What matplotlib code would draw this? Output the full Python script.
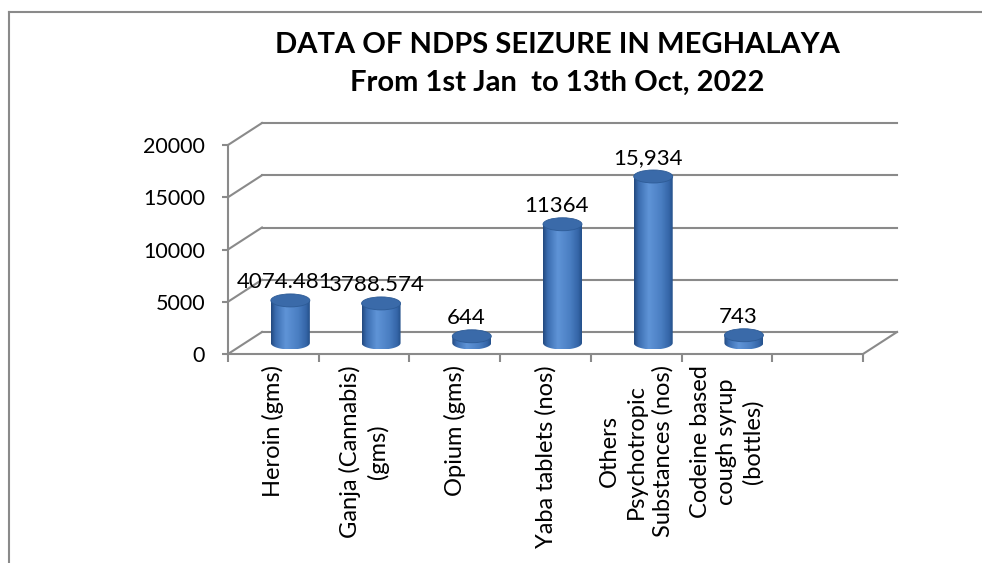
import numpy as np
import matplotlib.pyplot as plt
from matplotlib.patches import Ellipse, Polygon
from matplotlib.colors import LinearSegmentedColormap
from matplotlib.lines import Line2D

plt.rcParams['font.family'] = ['Lato', 'DejaVu Sans']

# data
categories = ['Heroin (gms)', 'Ganja (Cannabis)\n(gms)', 'Opium (gms)',
              'Yaba tablets (nos)', 'Others\nPsychotropic\nSubstances (nos)',
              'Codeine based\ncough syrup\n(bottles)']
values = [4074.481, 3788.574, 644, 11364, 15934, 743]
value_labels = ['4074.481', '3788.574', '644', '11364', '15,934', '743']
y_ticks = [0, 5000, 10000, 15000, 20000]
n_slots = 7  # last slot is empty in the original
title_lines = ['DATA OF NDPS SEIZURE IN MEGHALAYA', 'From 1st Jan  to 13th Oct, 2022']

W, H = 982, 563
fig = plt.figure(figsize=(W / 100, H / 100), dpi=100)
ax = fig.add_axes([228 / W, 1 - 354 / H, 635 / W, 209 / H])
ax.set_xlim(0, n_slots)
ax.set_ylim(0, 20000)

grid_col = '#8a8a8a'
# depth of the fake 3D box (in data units)
DX = 34 / (635 / n_slots)
DY = 22 / 209 * 20000

# back wall gridlines + side wall diagonals
for v in y_ticks:
    ax.plot([DX, n_slots + DX], [v + DY, v + DY], color=grid_col, lw=1.5,
            clip_on=False, zorder=1)
    ax.plot([0, DX], [v, v + DY], color=grid_col, lw=1.5, clip_on=False, zorder=1)
ax.plot([n_slots, n_slots + DX], [0, DY], color=grid_col, lw=1.5,
        clip_on=False, zorder=1)

for s in ['top', 'right']:
    ax.spines[s].set_visible(False)
for s in ['left', 'bottom']:
    ax.spines[s].set_color(grid_col)
    ax.spines[s].set_linewidth(1.5)
ax.patch.set_alpha(0)

ax.set_yticks(y_ticks)
ax.set_yticklabels([str(v) for v in y_ticks])
ax.tick_params(axis='y', length=4.5, width=1.5, color=grid_col, pad=12,
               labelsize=15.5)
ax.set_xticks(np.arange(n_slots + 1))
ax.set_xticklabels([])
ax.tick_params(axis='x', which='major', length=6, width=1.5, color=grid_col)
ax.set_xticks(np.arange(len(categories)) + 0.5, minor=True)
ax.set_xticklabels(categories, minor=True, rotation=90, ha='center', va='top',
                   multialignment='center', fontsize=17, linespacing=1.3)
ax.tick_params(axis='x', which='minor', length=0, pad=8)

# cylinders
cyl_cmap = LinearSegmentedColormap.from_list(
    'cyl', [(0, '#22487e'), (0.12, '#3b6db0'), (0.38, '#5f94d7'),
            (0.7, '#4a7ec2'), (0.9, '#3566a8'), (1, '#25508a')])
grad = np.linspace(0, 1, 256).reshape(1, -1)
w = 39 / (635 / n_slots)
eh = 13 / 209 * 20000
base = DY / 2
t = np.linspace(np.pi, 2 * np.pi, 60)
for i, (v, lbl) in enumerate(zip(values, value_labels)):
    cx = i + 0.5 + DX / 2
    top = base + v
    pts = [(cx + w / 2 * np.cos(a), base + eh / 2 * np.sin(a)) for a in t]
    pts += [(cx + w / 2, top), (cx - w / 2, top)]
    body = Polygon(pts, closed=True, facecolor='none', edgecolor='none',
                   clip_on=False)
    ax.add_patch(body)
    im = ax.imshow(grad, cmap=cyl_cmap, aspect='auto', zorder=3,
                   extent=[cx - w / 2, cx + w / 2, base - eh / 2, top])
    im.set_clip_path(body)
    ax.add_patch(Ellipse((cx, top), w, eh, facecolor='#3a6aa9',
                         edgecolor='#2d5b96', lw=0.6, zorder=4, clip_on=False))
    ax.annotate(lbl, (cx, top), xytext=(-4, 13), textcoords='offset points',
                ha='center', va='center', fontsize=16, zorder=5)

ax.set_xlim(0, n_slots)
ax.set_ylim(0, 20000)

# two-line title
fig.text(557 / W, 1 - 45 / H, title_lines[0], ha='center', va='center',
         fontsize=21, fontweight='bold')
fig.text(557 / W, 1 - 83 / H, title_lines[1], ha='center', va='center',
         fontsize=21, fontweight='bold')

# outer chart border (only top and left visible in the crop)
fig.add_artist(Line2D([9 / W, 1], [1 - 12 / H, 1 - 12 / H], color=grid_col,
                      lw=1.5, transform=fig.transFigure))
fig.add_artist(Line2D([9 / W, 9 / W], [0, 1 - 12 / H], color=grid_col,
                      lw=1.5, transform=fig.transFigure))

fig.savefig('out.png', dpi=100)
